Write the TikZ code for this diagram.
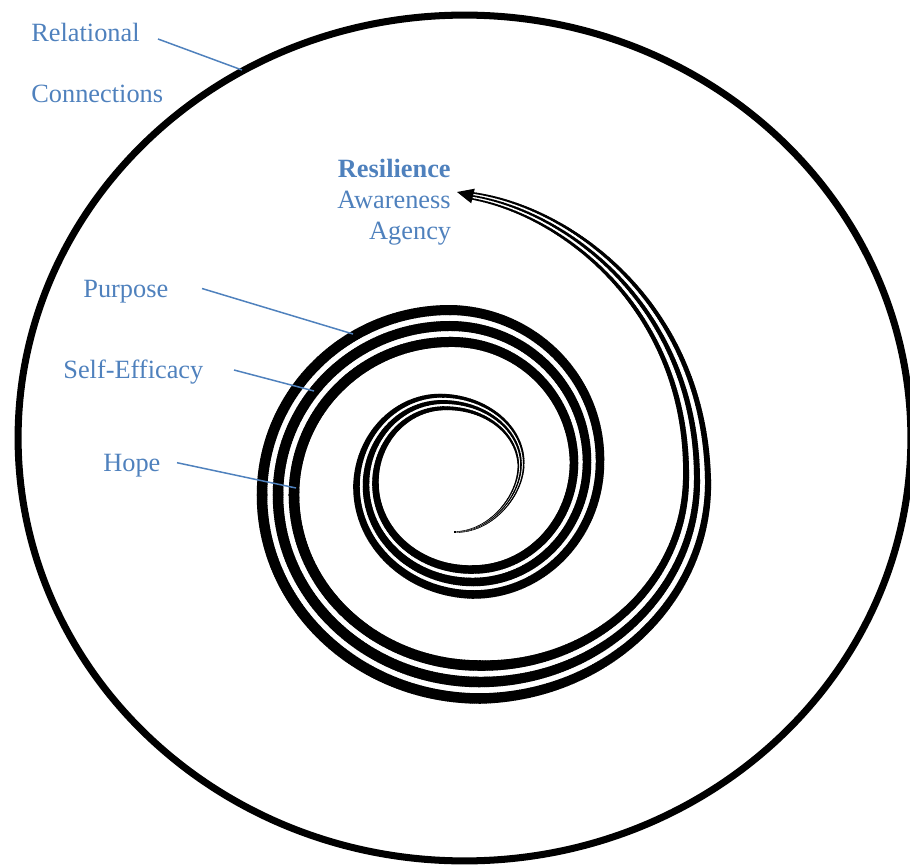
\documentclass[tikz,border=0pt]{standalone}
\usepackage{fontspec}
\setmainfont{Liberation Serif}
\usetikzlibrary{decorations.markings}
\definecolor{lblue}{RGB}{79,129,189}
\begin{document}
\begin{tikzpicture}[x=0.02cm, y=-0.02cm,
  lab/.style={text=lblue, font=\fontsize{15}{18}\selectfont, inner sep=0pt},
  leader/.style={draw=lblue, line width=0.85pt},
  rim/.style={line width=4pt}]
\useasboundingbox (0,0) rectangle (910,865);
\clip (0,0) rectangle (910,865);
% outer boundary
\draw[rim] (464.5,438) ellipse [x radius=8.93cm, y radius=8.46cm];
% spiral: three parallel strands of varying width
\foreach \xa/\ya/\xb/\yb/\xc/\yc/\xd/\yd/\wA/\wB/\gA/\gB in {
  455/532/491.5/532/521/495/521/465/0.3/1.5/0.2/1.2,
  521/465/521/430.2/486.1/402/443/402/1.5/3.8/1.2/2.5,
  443/402/400.5/402/366/439.2/366/485/3.8/6.5/2.5/3,
  366/485/366/538.6/413.9/582/473/582/6.5/8.5/3/4,
  473/582/536/582/587/528.3/587/462/8.5/8.5/4/4.5,
  587/462/587/386.9/525.7/326/450/326/8.5/10/4.5/6,
  450/326/355/326/278/401.7/278/495/10/10.5/6/5.5,
  278/495/278/598.3/368.4/682/480/682/10.5/10.5/5.5/6,
  480/682/599.8/682/697/591.6/697/480/10.5/6/6/5,
  697/480/697/310/570/212/473/196/6/1.5/5/1.5}{
  \path[decorate, decoration={markings,
    mark=between positions 0 and 1 step 1pt with {%
      \pgfmathsetmacro\spfr{\pgfkeysvalueof{/pgf/decoration/mark info/distance from start}/\pgfdecoratedpathlength}%
      \pgfmathsetmacro\spsw{0.569*(\wA+(\wB-\wA)*\spfr)}%
      \pgfmathsetmacro\spgw{0.569*(\gA+(\gB-\gA)*\spfr)}%
      \pgfmathsetmacro\spo{\spsw+\spgw}%
      \pgfmathsetmacro\spla{-\spo-0.5*\spsw}%
      \pgfmathsetmacro\splb{-\spo+0.5*\spsw}%
      \pgfmathsetmacro\spma{-0.5*\spsw}%
      \pgfmathsetmacro\spmb{0.5*\spsw}%
      \pgfmathsetmacro\spua{\spo-0.5*\spsw}%
      \pgfmathsetmacro\spub{\spo+0.5*\spsw}%
      \fill[black] (-0.7pt,\spla pt) rectangle (0.7pt,\splb pt);
      \fill[black] (-0.7pt,\spma pt) rectangle (0.7pt,\spmb pt);
      \fill[black] (-0.7pt,\spua pt) rectangle (0.7pt,\spub pt);
    }}]
    (\xa,\ya) .. controls (\xb,\yb) and (\xc,\yc) .. (\xd,\yd);
}
% arrowhead
\fill[black] (457,192) -- (474.8,188.7) -- (471.2,203.3) -- cycle;
% labels
\node[lab, anchor=base west] (rel) at (31,42) {Relational};
\node[lab, anchor=base west] (con) at (31,102.5) {Connections};
\node[lab, anchor=base east, font=\fontsize{15}{18}\selectfont\bfseries] (res) at (451,177.5) {Resilience};
\node[lab, anchor=base east] (awa) at (451,208.5) {Awareness};
\node[lab, anchor=base east] (age) at (451.5,239) {Agency};
\node[lab, anchor=base west] (pur) at (83,297.5) {Purpose};
\node[lab, anchor=base west] (sef) at (63,378.5) {Self-Efficacy};
\node[lab, anchor=base west] (hop) at (103,471) {Hope};
% leader lines
\coordinate (relS) at (158,39);   \coordinate (relE) at (242,70);
\coordinate (purS) at (202,288.5); \coordinate (purE) at (353,334);
\coordinate (sefS) at (234,370);  \coordinate (sefE) at (314,391);
\coordinate (hopS) at (177,462.7); \coordinate (hopE) at (296,488);
\draw[leader] (relS) -- (relE);
\draw[leader] (purS) -- (purE);
\draw[leader] (sefS) -- (sefE);
\draw[leader] (hopS) -- (hopE);
\end{tikzpicture}
\end{document}
